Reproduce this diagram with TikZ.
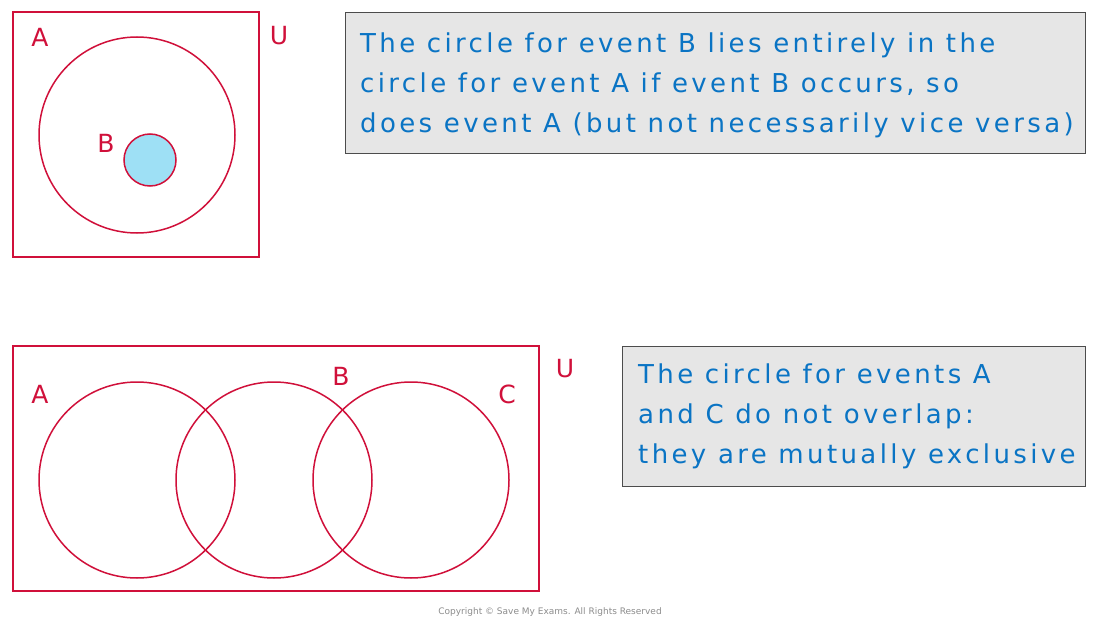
\documentclass[tikz,border=0pt]{standalone}
\usepackage{fontspec}
\setmainfont{DejaVu Sans}
\newfontfamily\boxfont[LetterSpace=13]{DejaVu Sans}
\usetikzlibrary{positioning}
\definecolor{vred}{HTML}{D0103A}
\definecolor{vblue}{HTML}{0A74C4}
\definecolor{vfill}{HTML}{9EE0F5}
\definecolor{boxgray}{HTML}{E6E6E6}
\tikzset{
  frame/.style={draw=vred,line width=1.5pt},
  event/.style={draw=vred,line width=1.5pt},
  setlabel/.style={text=vred,font=\fontsize{25}{25}\selectfont,inner sep=0pt},
  note/.style={draw=black!70,fill=boxgray,line width=1pt},
  notetext/.style={text=vblue,font=\boxfont\fontsize{26}{40}\selectfont,align=left,anchor=north west,inner sep=0pt}
}
\begin{document}
\begin{tikzpicture}[x=1pt,y=-1pt]
\useasboundingbox (0,0) rectangle (1100,623);
% subset diagram
\draw[frame] (13,12) rectangle (259,257);
\draw[event] (137,135) circle (98);
\draw[event,fill=vfill] (150,160) circle (26);
\node (labA1) [setlabel] at (40,37) {A};
\node (labB1) [setlabel] at (106,143) {B};
\node (labU1) [setlabel] at (279,36) {U};
\draw[note] (345,13) rectangle (1085,153);
\node (note1) [notetext] at (360,33) {The circle for event B lies entirely in the\\circle for event A if event B occurs, so\\does event A (but not necessarily vice versa)};
% mutually exclusive diagram
\draw[frame] (13,346) rectangle (539,591);
\foreach \cx in {137,274,411}
  \draw[event] (\cx,480) circle (98);
\node (labA2) [setlabel] at (40,394) {A};
\node (labB2) [setlabel] at (341,376) {B};
\node (labC2) [setlabel] at (507,394) {C};
\node (labU2) [setlabel] at (565,369) {U};
\draw[note] (622,346) rectangle (1085,486);
\node (note2) [notetext] at (638,364) {The circle for events A\\and C do not overlap:\\they are mutually exclusive};
\node (copy) [text=black!45,font=\fontsize{9}{9}\selectfont] at (550,612) {Copyright © Save My Exams. All Rights Reserved};
\end{tikzpicture}
\end{document}
